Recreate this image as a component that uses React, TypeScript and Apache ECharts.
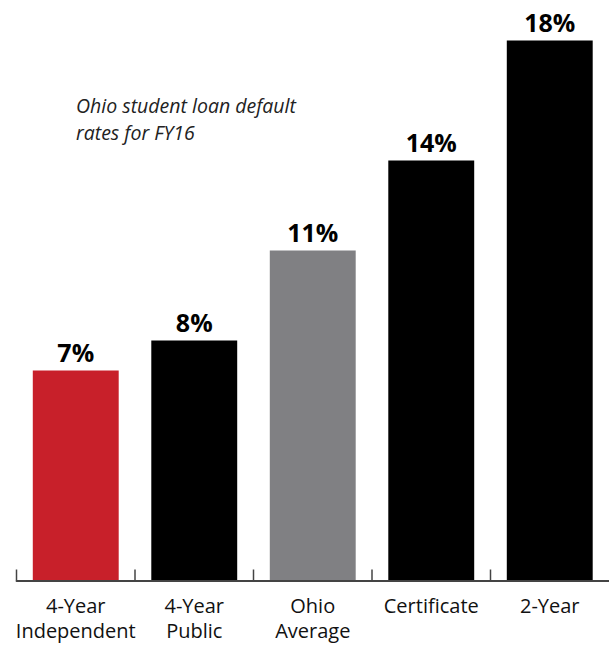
import React, { useEffect, useRef } from "react";
import * as echarts from "echarts";

const categories = ["4-Year\nIndependent", "4-Year\nPublic", "Ohio\nAverage", "Certificate", "2-Year"];
const values = [7, 8, 11, 14, 18];
const barColors = ["#c8202a", "#000000", "#808083", "#000000", "#000000"];
const titleLines = ["Ohio student loan default", "rates for FY16"];

export default function App() {
  const ref = useRef<HTMLDivElement>(null);
  useEffect(() => {
    document.body.style.margin = "0";
    const chart = echarts.init(ref.current!, null, { renderer: "svg" });
    chart.setOption({
      animation: false,
      backgroundColor: "#ffffff",
      graphic: [
        {
          type: "text",
          left: 76,
          top: 92,
          style: {
            text: titleLines.join("\n"),
            font: "italic 19.5px 'Open Sans'",
            lineHeight: 27,
            fill: "#222",
          },
        },
      ],
      grid: { left: 16.5, right: -8, top: 0, bottom: 66.5, containLabel: false },
      xAxis: {
        type: "category",
        data: categories,
        axisLine: { show: true, lineStyle: { color: "#444", width: 1.8 } },
        axisTick: { show: false },
        axisLabel: {
          interval: 0,
          color: "#111",
          fontFamily: "Open Sans",
          fontSize: 20,
          lineHeight: 25,
          margin: 12,
        },
        z: 10,
      },
      yAxis: {
        type: "value",
        min: 0,
        max: 19.35,
        show: false,
        splitLine: { show: false },
      },
      series: [
        {
          type: "bar",
          barCategoryGap: "27.5%",
          data: values.map((v, i) => ({ value: v, itemStyle: { color: barColors[i] } })),
          label: {
            show: true,
            position: "top",
            distance: 6,
            formatter: "{c}%",
            color: "#000",
            fontFamily: "Open Sans",
            fontWeight: "bold",
            fontSize: 25,
          },
        },
        {
          type: "custom",
          silent: true,
          z: 20,
          encode: { x: 0, y: 1 },
          data: categories.map((_, i) => [i, 0]),
          renderItem: (params: any, api: any) => {
            const c = api.coord([api.value(0), 0]);
            const w = api.size([1, 0])[0];
            const x = c[0] - w / 2;
            return {
              type: "line",
              shape: { x1: x, y1: c[1], x2: x, y2: c[1] - 11 },
              style: { stroke: "#444", lineWidth: 1.5 },
            };
          },
        },
      ],
    });
    return () => chart.dispose();
  }, []);
  return <div ref={ref} style={{ width: 609, height: 647 }} />;
}
